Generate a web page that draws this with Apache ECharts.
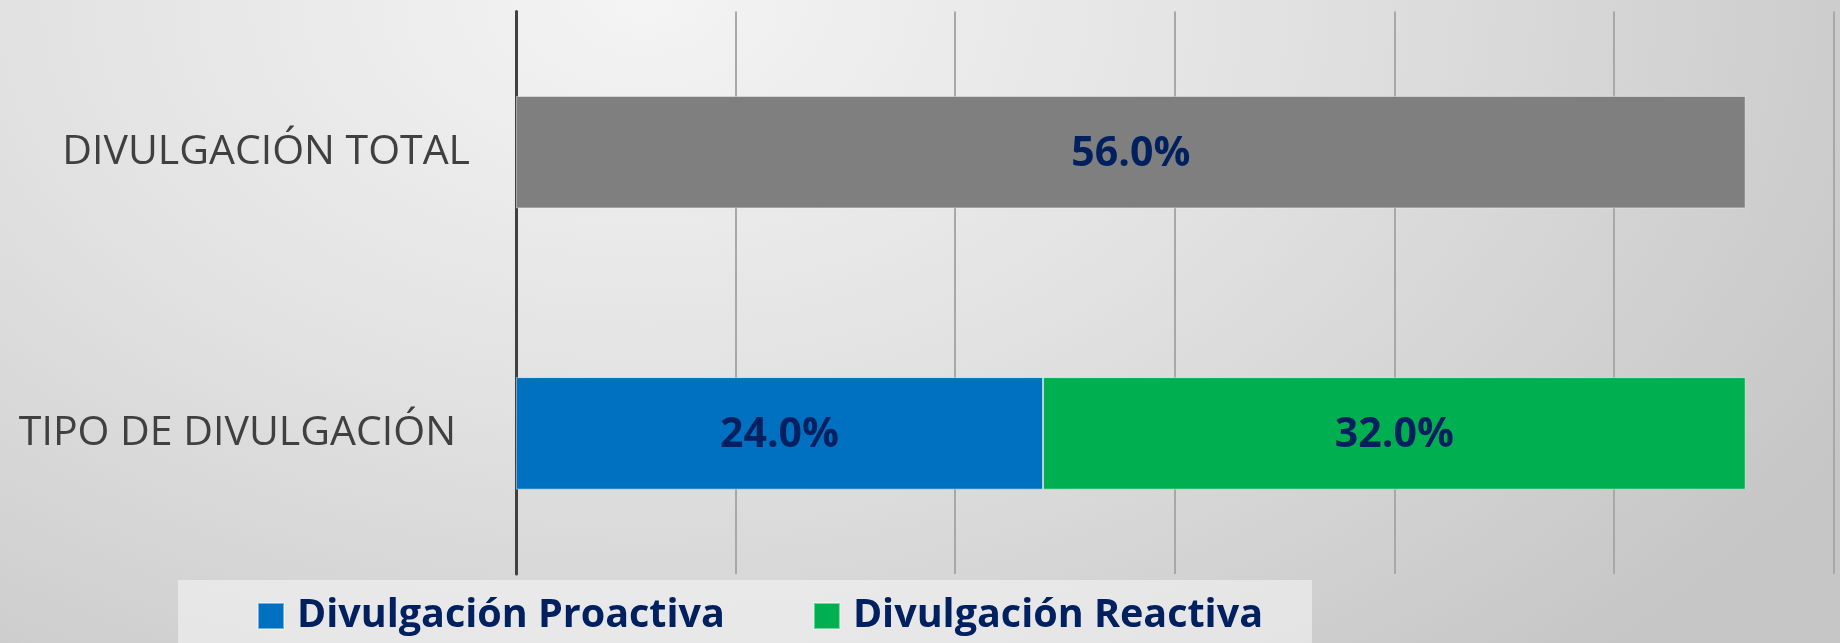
<!DOCTYPE html>
<html>
<head>
<meta charset="utf-8">
<style>
  html, body { margin: 0; padding: 0; }
  #chart {
    width: 1840px;
    height: 643px;
    background: radial-gradient(ellipse 75% 140% at 35% 0%, #f4f4f4 0%, #e2e2e2 45%, #c6c6c6 100%);
  }
</style>
<script src="https://cdn.jsdelivr.net/npm/echarts@6/dist/echarts.min.js"></script>
</head>
<body>
<div id="chart"></div>
<script>
// categories, bottom to top
const categories = ['TIPO DE DIVULGACIÓN', 'DIVULGACIÓN TOTAL'];
const proactivaValues = [24, null];
const reactivaValues = [32, null];
const totalValues = [null, 56];
const legendNames = ['Divulgación Proactiva', 'Divulgación Reactiva'];

const chart = echarts.init(document.getElementById('chart'));

const valueLabel = {
  show: true,
  position: 'inside',
  offset: [0, 2],
  fontFamily: 'Open Sans',
  fontWeight: 'bold',
  fontSize: 41,
  color: '#002060',
  formatter: (p) => `${p.value.toFixed(1)}%`,
};

const option = {
  backgroundColor: 'transparent',
  animation: false,
  graphic: [
    {
      // legend backdrop
      type: 'rect',
      left: 178,
      top: 580,
      z: -10,
      shape: { width: 1134, height: 63 },
      style: { fill: 'rgba(255,255,255,0.45)' },
    },
  ],
  grid: {
    left: 516,
    right: 6.5,
    top: 11.5,
    bottom: 69,
    containLabel: false,
  },
  legend: {
    data: legendNames,
    left: 257,
    top: 596,
    padding: 0,
    icon: 'rect',
    itemWidth: 26,
    itemHeight: 26,
    itemGap: 88,
    textStyle: {
      fontFamily: 'Open Sans',
      fontWeight: 'bold',
      fontSize: 39.5,
      lineHeight: 40,
      color: '#002060',
      padding: [0, 0, 0, 8],
    },
  },
  xAxis: {
    type: 'value',
    min: 0,
    max: 60,
    interval: 10,
    axisLine: { show: false },
    axisTick: { show: false },
    axisLabel: { show: false },
    splitLine: {
      show: true,
      lineStyle: { color: '#a8a8a8', width: 2 },
    },
  },
  yAxis: {
    type: 'category',
    data: [
      { value: categories[0], textStyle: { padding: [0, 14, 0, 0] } },
      { value: categories[1] },
    ],
    axisLine: { show: true, lineStyle: { color: '#404040', width: 3 } },
    axisTick: { show: false },
    axisLabel: {
      margin: 46,
      fontFamily: 'Open Sans',
      fontSize: 41,
      color: '#404040',
    },
  },
  series: [
    {
      name: legendNames[0],
      type: 'bar',
      stack: 'all',
      barWidth: '40%',
      data: proactivaValues,
      itemStyle: { color: '#0070c0', borderColor: 'rgba(255,255,255,0.45)', borderWidth: 1 },
      label: valueLabel,
    },
    {
      name: legendNames[1],
      type: 'bar',
      stack: 'all',
      barWidth: '40%',
      data: reactivaValues,
      itemStyle: { color: '#00b050', borderColor: 'rgba(255,255,255,0.45)', borderWidth: 1 },
      label: valueLabel,
    },
    {
      name: 'Divulgación Total',
      type: 'bar',
      stack: 'all',
      barWidth: '40%',
      data: totalValues,
      itemStyle: { color: '#7f7f7f', borderColor: 'rgba(255,255,255,0.45)', borderWidth: 1 },
      label: valueLabel,
    },
  ],
};

chart.setOption(option);
</script>
</body>
</html>
